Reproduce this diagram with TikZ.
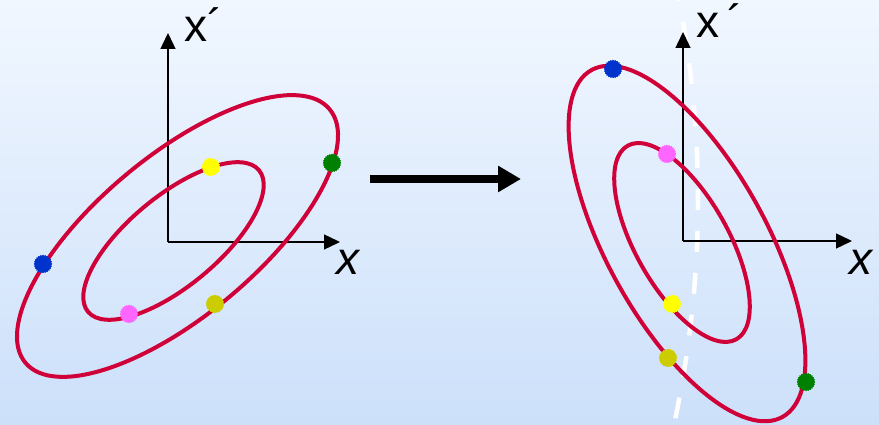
\documentclass[tikz,border=0pt]{standalone}
\usepackage{fontspec}
\setmainfont{Liberation Sans}
\usetikzlibrary{arrows.meta,shapes.geometric}
\definecolor{ellred}{RGB}{208,0,56}
\definecolor{bgtop}{RGB}{241,247,255}
\definecolor{bgbot}{RGB}{204,224,250}
\definecolor{dblue}{RGB}{0,51,204}
\definecolor{dgreen}{RGB}{0,128,0}
\definecolor{dyellow}{RGB}{255,255,0}
\definecolor{dpink}{RGB}{255,102,255}
\definecolor{dolive}{RGB}{204,204,0}
\begin{document}
\begin{tikzpicture}[x=1pt,y=1pt,
  ring/.style={draw=ellred,line width=4pt},
  axis/.style={draw=black,line width=1.4pt,-{Triangle[length=16pt,width=15pt]}},
  dot/.style={star,star points=24,star point ratio=1.12,minimum size=18.5pt,inner sep=0pt,fill=#1},
  lbl/.style={inner sep=0pt,anchor=base west,font=\fontsize{46}{50}\selectfont},
  ilbl/.style={inner sep=0pt,anchor=base west,font=\fontsize{46}{50}\selectfont\itshape}]
\useasboundingbox (0,0) rectangle (879,425);
\shade[top color=bgtop,bottom color=bgbot] (0,0) rectangle (879,425);
% dashed white curve
\draw[white,line width=4.5pt,dash pattern=on 21pt off 21pt,dash phase=20pt]
  plot[domain=0:425,samples=60,variable=\t] ({698-(0.021794*(\t-200))^2},{425-\t});
% left axes
\coordinate (lo) at (168,183);
\coordinate (ly) at (168,392);
\coordinate (lx) at (340,183);
\draw[axis] (lo) -- (ly);
\draw[axis] (lo) -- (lx);
% right axes
\coordinate (ro) at (683,184);
\coordinate (ry) at (683,393);
\coordinate (rx) at (852,184);
\draw[axis] (ro) -- (ry);
\draw[axis] (ro) -- (rx);
% ellipses
\draw[ring,rotate around={39.8:(177.5,189)}] (177.5,189) ellipse [x radius=198pt,y radius=80pt];
\draw[ring,rotate around={39.6:(173.5,184)}] (173.5,184) ellipse [x radius=111pt,y radius=45pt];
\draw[ring,rotate around={-61.2:(687,181.5)}] (687,181.5) ellipse [x radius=198pt,y radius=80pt];
\draw[ring,rotate around={-60.7:(682,182.5)}] (682,182.5) ellipse [x radius=111pt,y radius=46.5pt];
% middle arrow
\coordinate (ms) at (370,246);
\coordinate (me) at (521,246);
\draw[line width=8pt,-{Triangle[length=23pt,width=25pt]}] (ms) -- (me);
% dots left
\node[dot=dblue] (lb) at (43,161) {};
\node[dot=dgreen] (lg) at (332,262) {};
\node[dot=dyellow] (lyel) at (211,258) {};
\node[dot=dpink] (lp) at (129,111) {};
\node[dot=dolive] (lol) at (215,121) {};
% dots right
\node[dot=dblue] (rb) at (613,356) {};
\node[dot=dpink] (rp) at (667,271) {};
\node[dot=dyellow] (ryel) at (672,121) {};
\node[dot=dolive] (rol) at (668,67) {};
\node[dot=dgreen] (rg) at (806,43) {};
% labels
\node[lbl] (lxp) at (184,383) {x´};
\node[lbl] (rxp) at (696,387) {x\kern8pt´};
\node[ilbl] (lxx) at (336,150) {x};
\node[ilbl] (rxx) at (849,150) {x};
\end{tikzpicture}
\end{document}
